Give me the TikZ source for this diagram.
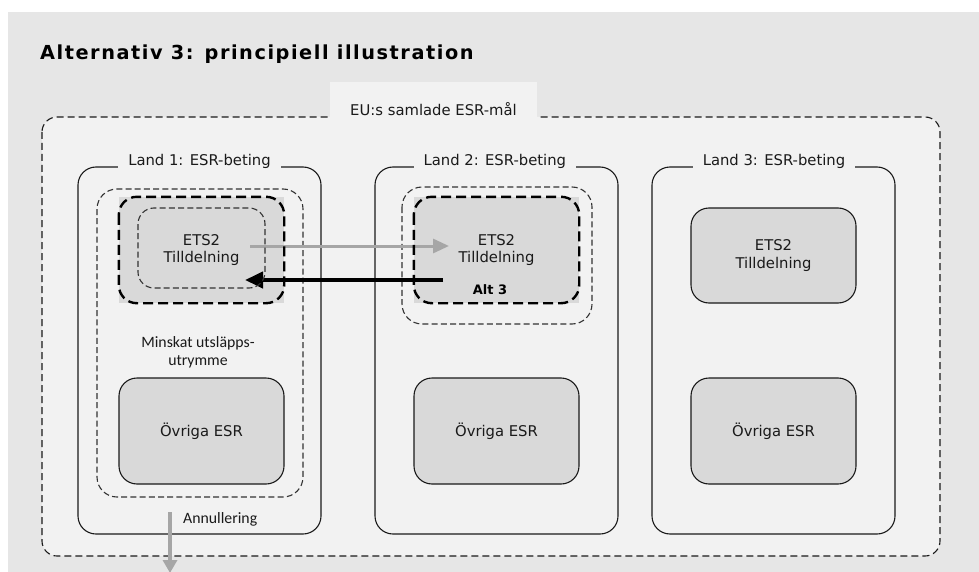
\documentclass[tikz,border=0pt]{standalone}
\usepackage{fontspec}
\setmainfont{DejaVu Sans}
\newfontfamily\calfont{Carlito}
\newfontfamily\titlefont[LetterSpace=8]{DejaVu Sans}
\usetikzlibrary{arrows.meta}
\definecolor{bggrey}{HTML}{E6E6E6}
\definecolor{panel}{HTML}{F2F2F2}
\definecolor{boxfill}{HTML}{D9D9D9}
\definecolor{arrgrey}{HTML}{A6A6A6}
\definecolor{ink}{HTML}{1A1A1A}
\tikzset{
  txt/.style={font=\fontsize{14.8}{17.5}\selectfont, text=ink, align=center, inner sep=0pt},
  caltxt/.style={font=\calfont\fontsize{15.8}{18}\selectfont, text=ink, align=center, inner sep=0pt},
  landbox/.style={draw=ink, line width=1.1pt, fill=panel, rounded corners=18pt,
    minimum width=243pt, minimum height=367pt, inner sep=0pt},
  landlabel/.style={txt, fill=panel, inner xsep=10pt, inner ysep=2pt},
  middash/.style={draw=black!80, line width=1.1pt, dash pattern=on 6pt off 3.2pt, rounded corners=20pt},
  etsfill/.style={txt, fill=boxfill, minimum width=165pt, minimum height=106pt},
  etsborder/.style={draw=black, line width=2.4pt, dash pattern=on 10pt off 5pt, rounded corners=18pt},
  solidbox/.style={txt, fill=boxfill, draw=ink, line width=1.1pt, rounded corners=18pt,
    minimum width=165pt, minimum height=106pt},
  greyarrow/.style={draw=arrgrey, line width=3pt, -{Triangle[length=16pt,width=14pt]}},
  blackarrow/.style={draw=black, line width=4pt, -{Triangle[length=18pt,width=16pt]}},
}
\begin{document}
\begin{tikzpicture}[x=1pt,y=-1pt]
\useasboundingbox (0,0) rectangle (979,572);
% background
\fill[white] (0,0) rectangle (979,572);
\fill[bggrey] (8,12) rectangle (979,572);
% title
\node[anchor=base west, inner sep=0pt, text=black, font=\titlefont\bfseries\fontsize{19.3}{22}\selectfont]
  (title) at (40,60) {Alternativ 3: principiell illustration};
% EU outer frame
\draw[fill=panel, draw=ink, line width=1.1pt, dash pattern=on 7pt off 4pt, rounded corners=15pt]
  (42,117) rectangle (940,556);
\fill[panel] (330,82) rectangle (537,118.5);
\node[txt] (eu) at (433.5,109) {EU:s samlade ESR-mål};
% countries
\node[landbox] (l1) at (199.5,350.5) {};
\node[landbox] (l2) at (496.5,350.5) {};
\node[landbox] (l3) at (773.5,350.5) {};
\node[landlabel] (l1t) at (199.5,161) {Land 1: ESR-beting};
\node[landlabel] (l2t) at (494.8,161) {Land 2: ESR-beting};
\node[landlabel] (l3t) at (774,161) {Land 3: ESR-beting};
% medium dashed areas
\draw[middash] (97,189) rectangle (303,497);
\draw[middash] (402,187) rectangle (592,324);
% ETS boxes
\node[etsfill] (ets1) at (201.5,250) {ETS2\\Tilldelning};
\node[etsfill] (ets2) at (496.5,250) {ETS2\\Tilldelning};
\node[solidbox, minimum height=95pt] (ets3) at (773.5,255.5) {ETS2\\Tilldelning};
\node[inner sep=0pt, text=black, font=\bfseries\fontsize{13}{15}\selectfont] (alt) at (490,290) {Alt 3};
% arrows
\coordinate (gs) at (250,246);
\coordinate (ge) at (449,246);
\coordinate (bs) at (443,280);
\coordinate (be) at (245,280);
\draw[greyarrow] (gs) -- (ge);
\draw[blackarrow] (bs) -- (be);
% ETS borders
\draw[etsborder] (ets1.north west) rectangle (ets1.south east);
\draw[etsborder] (ets2.north west) rectangle (ets2.south east);
\draw[middash, rounded corners=16pt] (138,208) rectangle (265,288);
% reduced space text
\node[caltxt] (minskat) at (198,352) {Minskat utsläpps-\\utrymme};
% other ESR
\node[solidbox] (o1) at (201.5,431) {Övriga ESR};
\node[solidbox] (o2) at (496.5,431) {Övriga ESR};
\node[solidbox] (o3) at (773.5,431) {Övriga ESR};
% cancellation
\coordinate (as) at (170,512);
\coordinate (ae) at (170,573);
\draw[draw=arrgrey, line width=4pt, -{Triangle[length=13pt,width=14pt]}] (as) -- (ae);
\node[caltxt, anchor=west] (ann) at (183,519) {Annullering};
\end{tikzpicture}
\end{document}
